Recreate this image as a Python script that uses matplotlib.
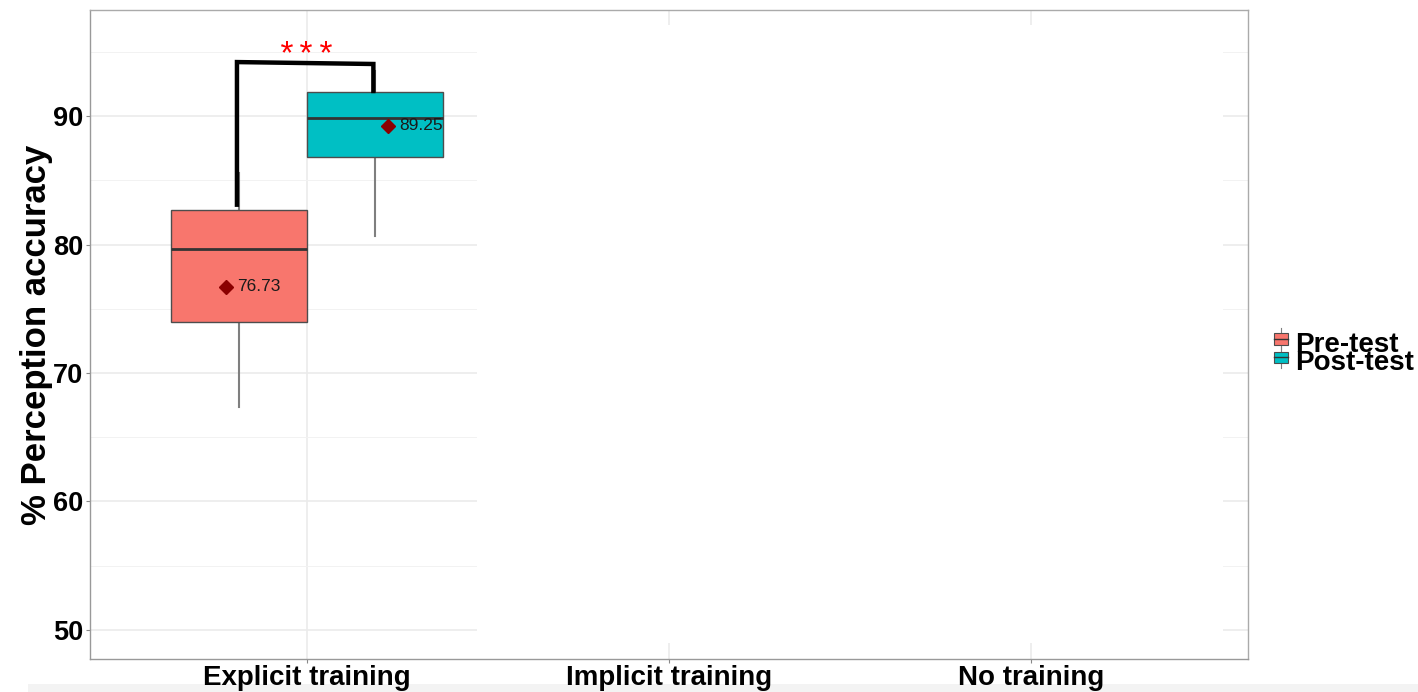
import matplotlib
matplotlib.use("Agg")
import matplotlib.pyplot as plt
from matplotlib.patches import Rectangle, Patch
from matplotlib.lines import Line2D
from matplotlib.legend_handler import HandlerPatch
import numpy as np

plt.rcParams['font.family'] = ['Liberation Sans', 'DejaVu Sans']

# categories and groups
categories = ["Explicit training", "Implicit training", "No training"]
groups = ["Pre-test", "Post-test"]
colors = ["#F8766D", "#00BFC4"]

# box stats for Explicit training
whislo = [67.35, 80.66]
q1 = [73.97, 86.81]
med = [79.65, 89.84]
q3 = [82.68, 91.87]
whishi = [85.6, 93.5]
means = [76.73, 89.25]

# significance bracket (pre -> post)
bracket_bottom = [83.1, 91.95]
bracket_top = [94.2, 94.05]
sig_label = "***"


class BoxKey(HandlerPatch):
    # little boxplot glyph like ggplot's legend key
    def create_artists(self, legend, orig, xd, yd, w, h, fs, trans):
        y0 = yd + h * 0.75
        r = Rectangle((xd, y0), w, h * 0.8,
                      facecolor=orig.get_facecolor(), edgecolor="#4d4d4d",
                      linewidth=0.8, transform=trans)
        m = Line2D([xd, xd + w], [y0 + h * 0.4] * 2, color="#333333",
                   linewidth=1.0, transform=trans)
        wl = Line2D([xd + w / 2] * 2, [y0 - h * 0.35, y0],
                    color="#7f7f7f", linewidth=0.8, transform=trans)
        wh = Line2D([xd + w / 2] * 2, [y0 + h * 0.8, y0 + h * 1.15],
                    color="#7f7f7f", linewidth=0.8, transform=trans)
        return [wl, wh, r, m]


fig = plt.figure(figsize=(14.18, 6.92), dpi=100)
ax = fig.add_axes([0.0635, 0.0477, 0.8166, 0.9378])

xpos = np.arange(1, len(categories) + 1)
dodge = 0.1875
box_w = 0.375

stats = []
for i in range(len(groups)):
    stats.append(dict(whislo=whislo[i], q1=q1[i], med=med[i], q3=q3[i],
                      whishi=whishi[i], fliers=[], label=groups[i]))

pos = [xpos[0] - dodge, xpos[0] + dodge]
bp = ax.bxp(stats, positions=pos, widths=box_w, patch_artist=True,
            showcaps=False, showfliers=False, manage_ticks=False,
            boxprops=dict(edgecolor="#4d4d4d", linewidth=1.0),
            medianprops=dict(color="#333333", linewidth=2.0),
            whiskerprops=dict(color="#7f7f7f", linewidth=1.5))
for patch, c in zip(bp['boxes'], colors):
    patch.set_facecolor(c)
    patch.set_zorder(3)
for ln in bp['medians']:
    ln.set_zorder(4)

# mean markers + labels
mean_off = [-0.036, 0.036]
for i in range(len(groups)):
    mx = pos[i] + mean_off[i]
    ax.plot(mx, means[i], marker="D", color="#8B0000", markersize=7.5,
            zorder=5, linestyle="none")
    ax.text(mx + 0.03, means[i], "%.2f" % means[i], fontsize=12.5,
            va="center", ha="left", color="#1a1a1a", zorder=6)

# bracket
bl = xpos[0] - 0.194
br = xpos[0] + 0.183
ax.plot([bl, bl, br, br],
        [bracket_bottom[0], bracket_top[0], bracket_top[1], bracket_bottom[1]],
        color="black", linewidth=3.2, solid_joinstyle="miter", zorder=7)
ax.text(xpos[0], 94.0, sig_label, color="red", fontsize=24,
        family="Liberation Mono", ha="center", va="baseline", zorder=7)

ax.set_xlim(0.4, 3.6)
ax.set_ylim(47.74, 98.25)
ax.set_xticks(xpos)
ax.set_xticklabels(categories, fontsize=20, fontweight="bold")
ax.set_yticks([50, 60, 70, 80, 90])
ax.set_yticks([55, 65, 75, 85, 95], minor=True)
ax.tick_params(axis="y", labelsize=19.5, length=3, color="#888888", pad=2)
ax.tick_params(axis="x", length=3, color="#888888", pad=1)
ax.tick_params(axis="y", which="minor", length=0)
for t in ax.get_yticklabels():
    t.set_fontweight("bold")

ax.grid(True, which="major", color="#ebebeb", linewidth=1.2, zorder=0)
ax.grid(True, which="minor", axis="y", color="#f2f2f2", linewidth=0.7, zorder=0)
ax.set_axisbelow(True)

for s in ax.spines.values():
    s.set_color("#aaaaaa")
    s.set_linewidth(1.0)
ax.spines['left'].set_color("#999999")
ax.spines['bottom'].set_color("#999999")

ax.set_ylabel("% Perception accuracy", fontsize=25, fontweight="bold",
              labelpad=0)

# white patch over the erased part of the panel
ax.add_patch(Rectangle((0.334, 0.0247), 0.644, 0.952, transform=ax.transAxes,
                       facecolor="white", edgecolor="none", zorder=1))

# legend
handles = [Patch(facecolor=c, edgecolor="#4d4d4d", linewidth=0.8) for c in colors]
leg = fig.legend(handles, groups, loc="center left",
                 bbox_to_anchor=(0.889, 0.488), frameon=False,
                 prop=dict(size=20, weight="bold"), handlelength=0.5,
                 handleheight=0.4, handletextpad=0.25, labelspacing=-0.28,
                 borderpad=0, handler_map={Patch: BoxKey()})

# light strip at the very bottom
fig.add_artist(Rectangle((0.02, 0), 0.98, 0.0116, transform=fig.transFigure,
                         facecolor="#f3f3f3", edgecolor="none", zorder=-1))

fig.savefig("out.png", dpi=100)
